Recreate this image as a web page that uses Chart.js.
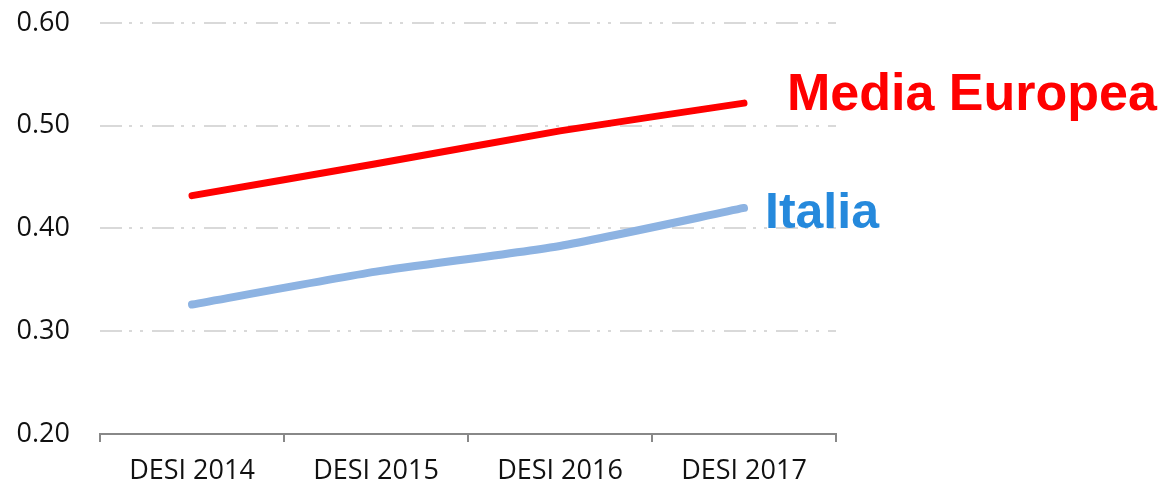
<!DOCTYPE html>
<html>
<head>
<meta charset="utf-8">
<script src="https://cdn.jsdelivr.net/npm/chart.js@4/dist/chart.umd.min.js"></script>
<style>
  html, body { margin: 0; padding: 0; background: #fff; }
  #wrap { width: 1166px; height: 485px; }
</style>
</head>
<body>
<div id="wrap"><canvas id="myChart" width="1166" height="485"></canvas></div>
<script>
// chart data
var categories = ["DESI 2014", "DESI 2015", "DESI 2016", "DESI 2017"];
var mediaEuropea = [0.432, 0.463, 0.495, 0.522];
var italia = [0.326, 0.358, 0.383, 0.42];
var yTicks = [0.2, 0.3, 0.4, 0.5, 0.6];
var seriesNames = ["Media Europea", "Italia"];

// labels at the end of each line
var endLabels = {
  id: "endLabels",
  afterDatasetsDraw(chart) {
    const ctx = chart.ctx;
    const styles = [
      { color: "#ff0000", font: "bold 52px 'Liberation Sans', Arial, sans-serif", dx: 43, dy: 7 },
      { color: "#2589dc", font: "bold 50px 'Liberation Sans', Arial, sans-serif", dx: 21, dy: 20 },
    ];
    chart.data.datasets.forEach(function (ds, i) {
      const meta = chart.getDatasetMeta(i);
      const last = meta.data[meta.data.length - 1];
      ctx.save();
      ctx.fillStyle = styles[i].color;
      ctx.font = styles[i].font;
      ctx.textAlign = "left";
      ctx.textBaseline = "alphabetic";
      ctx.fillText(ds.label, last.x + styles[i].dx, last.y + styles[i].dy);
      ctx.restore();
    });
  },
};

const ctx = document.getElementById("myChart");
new Chart(ctx, {
  type: "line",
  data: {
    labels: categories,
    datasets: [
      {
        label: seriesNames[0],
        data: mediaEuropea,
        borderColor: "#ff0000",
        borderWidth: 7,
        borderCapStyle: "round",
        tension: 0.15,
        pointRadius: 0,
        fill: false,
      },
      {
        label: seriesNames[1],
        data: italia,
        borderColor: "#8db3e2",
        borderWidth: 8,
        borderCapStyle: "round",
        tension: 0.2,
        pointRadius: 0,
        fill: false,
      },
    ],
  },
  options: {
    responsive: false,
    animation: false,
    layout: {
      padding: { top: 23, right: 330, left: 0, bottom: 0 },
    },
    plugins: {
      legend: { display: false },
      tooltip: { enabled: false },
    },
    scales: {
      x: {
        offset: true,
        grid: {
          offset: true,
          drawOnChartArea: false,
          drawTicks: true,
          tickLength: 8,
          color: "#888888",
          lineWidth: 2,
        },
        border: { display: true, color: "#888888", width: 2 },
        ticks: {
          color: "#111111",
          padding: 13,
          maxRotation: 0,
          font: { family: "'Open Sans', sans-serif", size: 27 },
        },
        afterFit(scale) {
          scale.height = 51;
          scale.paddingLeft = 0;
          scale.paddingRight = 0;
        },
      },
      y: {
        min: 0.2,
        max: 0.6,
        afterBuildTicks(scale) {
          scale.ticks = yTicks.map(function (v) { return { value: v }; });
        },
        grid: {
          drawTicks: false,
          color: "#d9d9d9",
          lineWidth: 2,
        },
        border: { display: false, dash: [22, 7, 3, 8, 3, 9] },
        ticks: {
          color: "#111111",
          padding: 30,
          font: { family: "'Open Sans', sans-serif", size: 27 },
          callback: function (value) {
            return Number(value).toFixed(2);
          },
        },
        afterFit(scale) {
          scale.width = 100;
          scale.paddingTop = 0;
          scale.paddingBottom = 0;
        },
      },
    },
  },
  plugins: [endLabels],
});
</script>
</body>
</html>
